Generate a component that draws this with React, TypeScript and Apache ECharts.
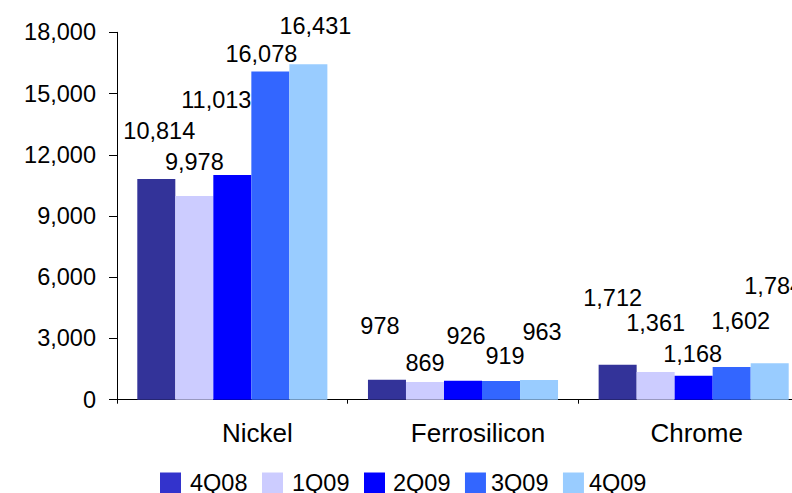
import React, { useEffect, useRef } from "react";
import * as echarts from "echarts";

// Quarterly figures per product
const categories = ["Nickel", "Ferrosilicon", "Chrome"];
const seriesNames = ["4Q08", "1Q09", "2Q09", "3Q09", "4Q09"];
const values4Q08 = [10814, 978, 1712];
const values1Q09 = [9978, 869, 1361];
const values2Q09 = [11013, 926, 1168];
const values3Q09 = [16078, 919, 1602];
const values4Q09 = [16431, 963, 1784];

// Value axis
const yMin = 0;
const yMax = 18000;
const yInterval = 3000;

const FONT = "'Liberation Sans', Arial, sans-serif";

// Styling: bar colours, legend key colours, hand-placed label nudges [dx, dy]
const barColors = ["#333399", "#CCCCFF", "#0000FF", "#3366FF", "#99CCFF"];
const legendColors = ["#3333CC", "#CCCCFF", "#0000FF", "#3366FF", "#99CCFF"];
const labelNudges: number[][][] = [
  [[3, -31], [-7, -37], [-5, -50]],
  [[0, -17], [0, -2], [0, -32]],
  [[-16, -58], [3, -28], [-1, -5]],
  [[-9, -1], [4, -8], [9, -29]],
  [[7, -21], [3, -31], [4, -60]],
];
const categoryShift = [50, 30, 6];
// legend text padding [left, right] per entry
const legendPads = [[4, 4.5], [4, 0], [3, 1], [0, 0], [0, 0]];

const fmt = (v: number) => v.toLocaleString("en-US");

export default function App() {
  const ref = useRef<HTMLDivElement>(null);

  useEffect(() => {
    if (!ref.current) return;
    const chart = echarts.init(ref.current, null, { renderer: "svg" });
    const allValues = [values4Q08, values1Q09, values2Q09, values3Q09, values4Q09];

    const rich: Record<string, any> = {};
    categoryShift.forEach((s, i) => {
      rich["c" + i] = {
        fontSize: 26,
        fontFamily: FONT,
        color: "#000",
        padding: [0, 0, 0, s],
      };
    });

    const legendRich: Record<string, any> = {};
    legendPads.forEach(([pl, pr], i) => {
      legendRich["l" + i] = {
        fontSize: 23.5,
        fontFamily: FONT,
        color: "#000",
        padding: [0, pr, 0, pl],
      };
    });

    chart.setOption({
      animation: false,
      backgroundColor: "#fff",
      grid: { left: 117, right: 21, top: 32.3, bottom: 93.3, containLabel: false },
      legend: {
        left: 160,
        top: 471,
        padding: 0,
        icon: "rect",
        itemWidth: 21,
        itemHeight: 21,
        itemGap: 14.5,
        formatter: (name: string) => `{l${seriesNames.indexOf(name)}|${name}}`,
        textStyle: { fontSize: 23.5, fontFamily: FONT, color: "#000", rich: legendRich },
        data: seriesNames.map((n, i) => ({ name: n, itemStyle: { color: legendColors[i] } })),
      },
      xAxis: {
        type: "category",
        data: categories,
        axisLine: { show: true, lineStyle: { color: "#000", width: 1 } },
        axisTick: { show: true, length: 4, lineStyle: { color: "#000" } },
        axisLabel: {
          interval: 0,
          hideOverlap: false,
          margin: 20,
          fontSize: 26,
          fontFamily: FONT,
          color: "#000",
          formatter: (v: string, i: number) => `{c${i}|${v}}`,
          rich,
        },
        splitLine: { show: false },
      },
      yAxis: {
        type: "value",
        min: yMin,
        max: yMax,
        interval: yInterval,
        axisLine: { show: true, lineStyle: { color: "#000", width: 1 } },
        axisTick: { show: true, length: 8, lineStyle: { color: "#000" } },
        axisLabel: {
          margin: 21,
          fontSize: 23.5,
          fontFamily: FONT,
          color: "#000",
          formatter: (v: number) => fmt(v),
        },
        splitLine: { show: false },
      },
      series: seriesNames.map((name, si) => ({
        name,
        type: "bar",
        barGap: "0%",
        barCategoryGap: "17.6%",
        itemStyle: { color: barColors[si] },
        data: allValues[si].map((v, ci) => ({
          value: v,
          label: { offset: labelNudges[si][ci] },
        })),
        label: {
          show: true,
          position: "top",
          distance: 5,
          fontSize: 23.5,
          fontFamily: FONT,
          color: "#000",
          formatter: (p: any) => fmt(p.value),
        },
      })),
    });

    return () => chart.dispose();
  }, []);

  return (
    <div
      style={{
        position: "fixed",
        left: 0,
        top: 0,
        width: 792,
        height: 493,
        overflow: "hidden",
        background: "#fff",
      }}
    >
      <div ref={ref} style={{ width: 830, height: 493 }} />
    </div>
  );
}
